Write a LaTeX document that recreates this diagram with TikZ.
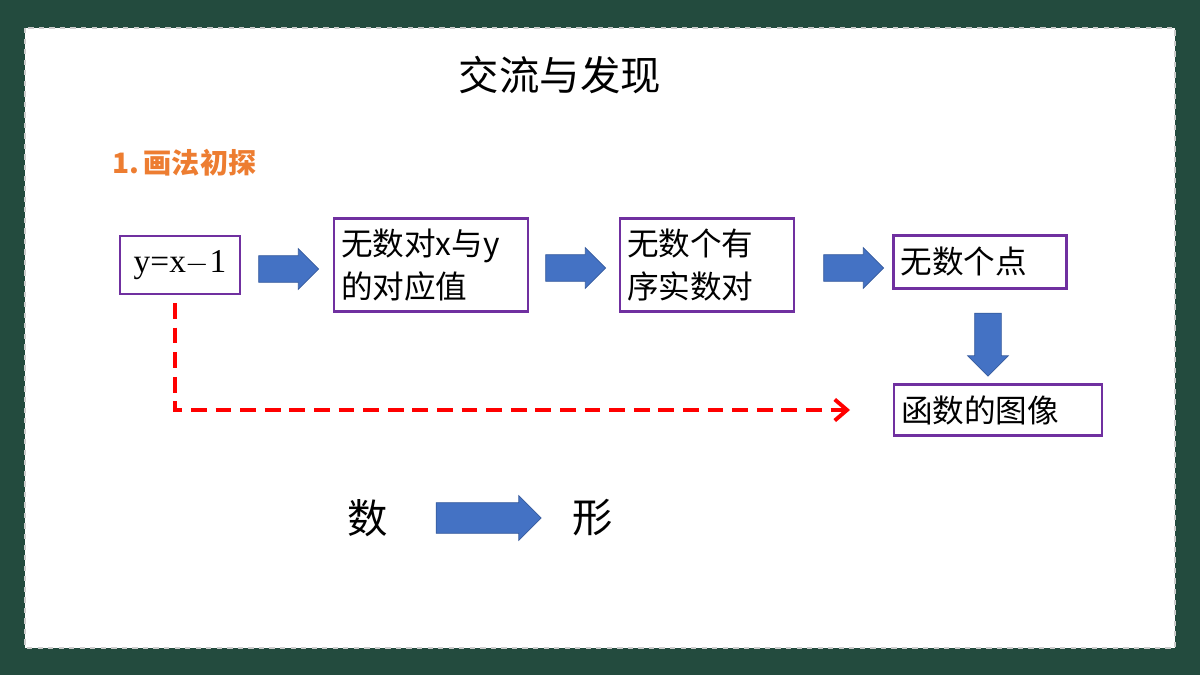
\documentclass[tikz,border=0pt]{standalone}
\usepackage{fontspec}
\setmainfont{Liberation Serif}
\newfontfamily\cjk{Noto Sans CJK SC}
\usetikzlibrary{shapes.arrows,arrows.meta}
\definecolor{boardgreen}{HTML}{234B3E}
\definecolor{boxpurple}{HTML}{7030A0}
\definecolor{arrowblue}{HTML}{4472C4}
\definecolor{titleorange}{HTML}{ED7D31}
\tikzset{
  stepbox/.style={draw=boxpurple,line width=1.2pt,fill=white,inner sep=4pt,font=\cjk\fontsize{18}{24}\selectfont,align=left,text width=#1,minimum width=#1},
  blockarrow/.style={single arrow,draw=arrowblue!80!black,fill=arrowblue,minimum height=#1,inner xsep=0pt,inner ysep=0.26cm,single arrow head extend=0.14cm},
  blockarrow/.default=1.2cm
}
\begin{document}
\begin{tikzpicture}[x=0.02cm,y=-0.02cm]
\fill[boardgreen] (0,0) rectangle (1200,675);
\fill[white] (25,28) rectangle (1175,648);
\draw[gray!40,line width=1.5pt,dashed] (25,28) rectangle (1175,648);
\useasboundingbox (0,0) rectangle (1200,675);
% headings
\node (title) at (560,75) {\cjk\fontsize{23}{26}\selectfont 交流与发现};
\node[anchor=west,text=titleorange] (sub) at (106,163) {\cjk\bfseries\fontsize{16}{20}\selectfont 1.\,画法初探};
% boxes
\node[draw=boxpurple,line width=1.2pt,minimum width=2.4cm,minimum height=1.16cm,font=\fontsize{19}{22}\selectfont] (eq) at (180,265) {y=x$-$1};
\node[stepbox=3.6cm,minimum height=1.86cm] (pairs) at (431,265) {无数对x与y\\的对应值};
\node[stepbox=3.2cm,minimum height=1.86cm] (ordered) at (707,265) {无数个有\\序实数对};
\node[stepbox=3.18cm,minimum height=1.06cm] (points) at (980,262) {无数个点};
\node[stepbox=3.88cm,minimum height=1.02cm] (graph) at (998,410) {函数的图像};
% arrows
\node[blockarrow] (a1) at (282,269) {};
\node[blockarrow] (a2) at (569,268) {};
\node[blockarrow] (a3) at (847,268) {};
\node[blockarrow=1.26cm,rotate=-90] (a4) at (988,338) {};
\coordinate (dashend) at (850,410);
\draw[red,line width=2.2pt,dash pattern=on 9pt off 5pt,-{Straight Barb[length=7pt,width=12pt]}] (eq.south) ++(-5,8) |- (dashend);
% number to shape
\node (num) at (368,518) {\cjk\fontsize{23}{26}\selectfont 数};
\node (shape) at (593,518) {\cjk\fontsize{23}{26}\selectfont 形};
\node[blockarrow=2.1cm,inner ysep=0.3cm] (a5) at (481,518) {};
\end{tikzpicture}
\end{document}
